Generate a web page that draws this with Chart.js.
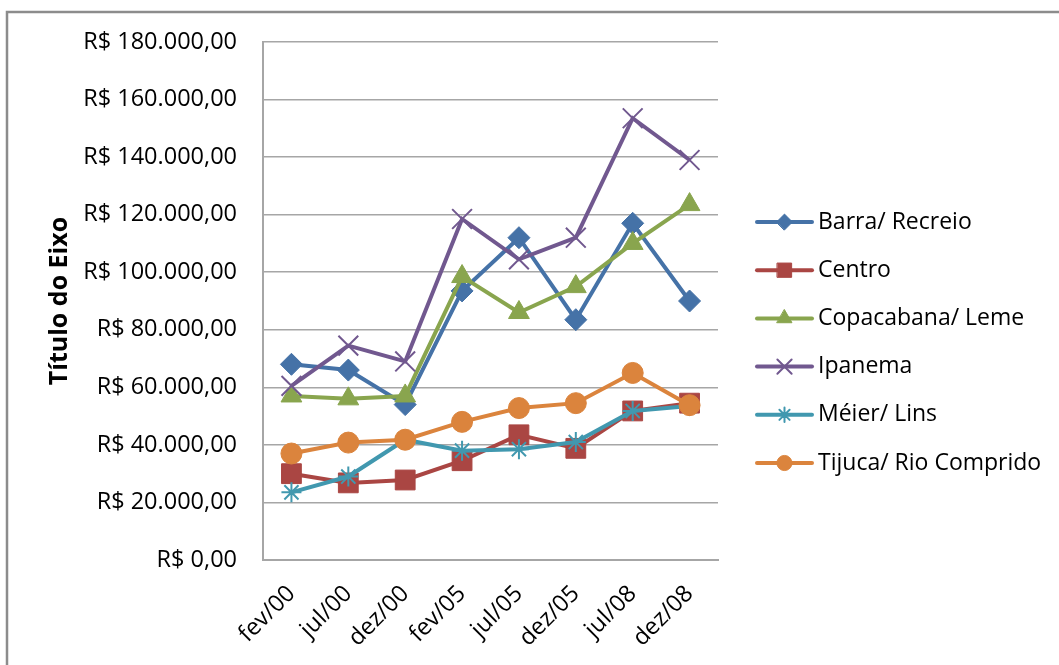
<!DOCTYPE html>
<html lang="pt-BR">
<head>
<meta charset="utf-8">
<title>Preço médio por bairro</title>
<script src="https://cdn.jsdelivr.net/npm/chart.js@4.4.1/dist/chart.umd.min.js"></script>
<style>
  html, body { margin: 0; padding: 0; background: #fff; }
  #wrap { position: relative; width: 1059px; height: 665px; }
</style>
</head>
<body>
<div id="wrap"><canvas id="chart"></canvas></div>
<script>
// períodos do eixo X
const periodos = ['fev/00', 'jul/00', 'dez/00', 'fev/05', 'jul/05', 'dez/05', 'jul/08', 'dez/08'];

// valores por bairro (R$)
const barraRecreio = [68000, 66000, 54000, 93500, 112000, 83500, 117000, 90000];
const centro = [30000, 26800, 27800, 34500, 43500, 38800, 51800, 54500];
const copacabanaLeme = [57000, 56000, 57000, 98500, 86000, 95000, 110000, 123500];
const ipanema = [60500, 74500, 69000, 118500, 104500, 112000, 153500, 139000];
const meierLins = [23500, 29000, 41800, 38000, 38500, 41000, 51800, 53500];
const tijucaRioComprido = [37000, 40800, 41800, 48000, 52800, 54500, 65000, 53800];

const bairros = ['Barra/ Recreio', 'Centro', 'Copacabana/ Leme', 'Ipanema', 'Méier/ Lins', 'Tijuca/ Rio Comprido'];
const series = [barraRecreio, centro, copacabanaLeme, ipanema, meierLins, tijucaRioComprido];
const cores = ['#4572A7', '#AA4643', '#89A54E', '#71588F', '#4198AF', '#DB843D'];
const marcadores = ['rectRot', 'rect', 'triangle', 'crossRot', 'star', 'circle'];
const raios = [11, 14, 12, 14, 10, 10.5];

const eixoMin = 0;
const eixoMax = 180000;
const eixoPasso = 20000;
const tituloEixo = 'Título do Eixo';

const FONTE = '"Open Sans", "DejaVu Sans", sans-serif';

function reais(v) {
  const [inteiro, dec] = v.toFixed(2).split('.');
  return 'R$ ' + inteiro.replace(/\B(?=(\d{3})+(?!\d))/g, '.') + ',' + dec;
}

// moldura cinza (só topo e esquerda aparecem)
const moldura = {
  id: 'moldura',
  beforeDraw(chart) {
    const ctx = chart.ctx;
    ctx.save();
    ctx.fillStyle = '#fff';
    ctx.fillRect(0, 0, chart.width, chart.height);
    ctx.strokeStyle = '#8c8c8c';
    ctx.lineWidth = 2.5;
    ctx.beginPath();
    ctx.moveTo(7, chart.height + 4);
    ctx.lineTo(7, 12);
    ctx.lineTo(chart.width + 4, 12);
    ctx.stroke();
    ctx.restore();
  }
};

// legenda lateral: linha + marcador + nome
const legendaLateral = {
  id: 'legendaLateral',
  afterDraw(chart) {
    const { ctx, chartArea } = chart;
    const x0 = chartArea.right + 39;
    const x1 = x0 + 55;
    const topo = chartArea.top + 180;
    const passo = 48.2;
    chart.data.datasets.forEach((ds, i) => {
      const y = topo + i * passo;
      ctx.save();
      ctx.strokeStyle = ds.borderColor;
      ctx.lineWidth = 4;
      ctx.lineCap = 'round';
      ctx.beginPath();
      ctx.moveTo(x0, y);
      ctx.lineTo(x1, y);
      ctx.stroke();
      ctx.fillStyle = ds.pointBackgroundColor;
      ctx.strokeStyle = ds.pointBorderColor;
      ctx.lineWidth = ds.pointBorderWidth;
      Chart.helpers.drawPoint(ctx, {
        pointStyle: ds.pointStyle,
        radius: ds.pointRadius * 0.72,
        rotation: 0,
        borderWidth: ds.pointBorderWidth
      }, (x0 + x1) / 2, y);
      ctx.fillStyle = '#000';
      ctx.font = '23px ' + FONTE;
      ctx.textBaseline = 'middle';
      ctx.textAlign = 'left';
      ctx.fillText(ds.label, x1 + 6, y);
      ctx.restore();
    });
  }
};

const datasets = series.map((valores, i) => ({
  label: bairros[i],
  data: valores,
  borderColor: cores[i],
  backgroundColor: cores[i],
  pointBackgroundColor: cores[i],
  pointBorderColor: cores[i],
  pointStyle: marcadores[i],
  pointRadius: raios[i],
  pointBorderWidth: (marcadores[i] === 'crossRot' || marcadores[i] === 'star') ? 2 : 1,
  borderWidth: 4,
  tension: 0,
  fill: false,
  order: series.length - 1 - i
}));

new Chart(document.getElementById('chart'), {
  type: 'line',
  data: { labels: periodos, datasets },
  plugins: [moldura, legendaLateral],
  options: {
    responsive: true,
    maintainAspectRatio: false,
    animation: false,
    layout: { padding: { left: 8, top: 42, right: 341, bottom: 0 } },
    plugins: {
      legend: { display: false },
      tooltip: { enabled: false }
    },
    scales: {
      x: {
        offset: true,
        grid: { display: true, color: 'rgba(0,0,0,0)', drawTicks: false },
        border: { display: true, color: '#a6a6a6', width: 2 },
        ticks: {
          autoSkip: false,
          minRotation: 45,
          maxRotation: 45,
          padding: 20,
          color: '#000',
          font: { family: FONTE, size: 23.5 }
        },
        afterFit(scale) { scale.height = 105; }
      },
      y: {
        min: eixoMin,
        max: eixoMax,
        grid: { color: '#a6a6a6', lineWidth: 1.5, drawTicks: false },
        border: { display: true, color: '#a6a6a6', width: 2 },
        ticks: {
          stepSize: eixoPasso,
          padding: 26,
          color: '#000',
          font: { family: FONTE, size: 23.5 },
          callback: (v) => reais(v)
        },
        title: {
          display: true,
          text: tituloEixo,
          color: '#000',
          font: { family: FONTE, size: 25, weight: 'bold' },
          padding: { top: 37, bottom: 0 }
        },
        afterFit(scale) { scale.width = 255; }
      }
    }
  }
});
</script>
</body>
</html>
